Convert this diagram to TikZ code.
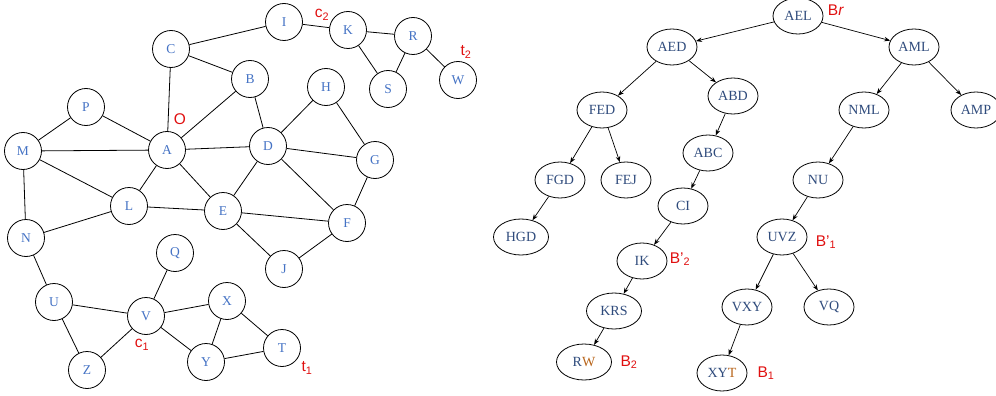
\documentclass[tikz,border=0pt]{standalone}
\usepackage{fontspec}
\setmainfont{Liberation Serif}
\newfontfamily\labfont{Liberation Sans}
\usetikzlibrary{arrows.meta,shapes.geometric}
\definecolor{gblue}{HTML}{4472C4}
\definecolor{tblue}{HTML}{2F4B7C}
\definecolor{tora}{HTML}{B8651B}
\definecolor{lred}{HTML}{E01010}
\tikzset{
  gnode/.style={circle,draw,line width=0.8pt,minimum size=37pt,inner sep=0pt,text=gblue,font=\fontsize{13.5}{14}\selectfont},
  tnode/.style={ellipse,draw,line width=0.8pt,minimum width=50pt,minimum height=36pt,inner sep=0pt,text=tblue,font=\fontsize{14}{15}\selectfont},
  wide/.style={minimum width=55pt},
  gedge/.style={line width=0.8pt},
  tedge/.style={line width=0.7pt,-{Stealth[length=6pt,width=4.5pt]}},
  lab/.style={text=lred,font=\labfont\fontsize{15.5}{16}\selectfont,inner sep=0pt}
}
\begin{document}
\begin{tikzpicture}[x=1pt,y=-1pt]
\useasboundingbox (0,0) rectangle (996,396);
% graph nodes
\node[gnode] (I) at (284,22) {I};
\node[gnode] (K) at (348,30) {K};
\node[gnode] (R) at (413,36) {R};
\node[gnode] (S) at (388,89) {S};
\node[gnode] (W) at (458,80) {W};
\node[gnode] (C) at (171,49) {C};
\node[gnode] (B) at (250,79) {B};
\node[gnode] (H) at (326,87) {H};
\node[gnode] (P) at (86,107) {P};
\node[gnode] (M) at (23,151) {M};
\node[gnode] (A) at (167,150) {A};
\node[gnode] (D) at (268,146) {D};
\node[gnode] (G) at (375,160) {G};
\node[gnode] (L) at (129,206) {L};
\node[gnode] (E) at (223,211) {E};
\node[gnode] (F) at (347,223) {F};
\node[gnode] (N) at (26,238) {N};
\node[gnode] (Q) at (175,253) {Q};
\node[gnode] (J) at (284,269) {J};
\node[gnode] (U) at (54,302) {U};
\node[gnode] (V) at (146,316) {V};
\node[gnode] (X) at (227,301) {X};
\node[gnode] (T) at (282,348) {T};
\node[gnode] (Y) at (206,362) {Y};
\node[gnode] (Z) at (87,370) {Z};
% graph edges
\foreach \a/\b in {C/I,I/K,K/R,K/S,R/S,R/W,C/B,C/A,B/A,B/D,H/D,H/G,P/M,P/A,M/A,A/D,D/G,M/L,M/N,A/L,A/E,D/E,D/F,G/F,L/E,L/N,E/F,E/J,J/F,N/U,Q/V,U/V,U/Z,V/Z,V/X,V/Y,X/Y,X/T,Y/T}
  \draw[gedge] (\a) -- (\b);
% graph labels
\node[lab] (lO) at (180,119) {O};
\node[lab] (lc2) at (322,15) {c\textsubscript{2}};
\node[lab] (lt2) at (466,52) {t\textsubscript{2}};
\node[lab] (lc1) at (142,345) {c\textsubscript{1}};
\node[lab] (lt1) at (307,368) {t\textsubscript{1}};
% tree nodes
\node[tnode] (AEL) at (798,16) {AEL};
\node[tnode] (AED) at (672,47) {AED};
\node[tnode] (AML) at (914,47) {AML};
\node[tnode] (FED) at (602,110) {FED};
\node[tnode] (ABD) at (733,96) {ABD};
\node[tnode] (NML) at (864,110) {NML};
\node[tnode] (AMP) at (976,110) {AMP};
\node[tnode] (ABC) at (708,153) {ABC};
\node[tnode] (FGD) at (560,180) {FGD};
\node[tnode] (FEJ) at (626,180) {FEJ};
\node[tnode] (NU) at (818,180) {NU};
\node[tnode] (CI) at (683,206) {CI};
\node[tnode,wide] (HGD) at (521,237) {HGD};
\node[tnode] (UVZ) at (782,237) {UVZ};
\node[tnode] (IK) at (642,261) {IK};
\node[tnode,wide] (KRS) at (614,311) {KRS};
\node[tnode] (VXY) at (747,307) {VXY};
\node[tnode] (VQ) at (829,307) {VQ};
\node[tnode,wide] (RW) at (584,362) {R\textcolor{tora}{W}};
\node[tnode] (XYT) at (722,373) {XY\textcolor{tora}{T}};
% tree edges
\foreach \a/\b in {AEL/AED,AEL/AML,AED/FED,AED/ABD,FED/FGD,FED/FEJ,FGD/HGD,ABD/ABC,ABC/CI,CI/IK,IK/KRS,KRS/RW,AML/NML,AML/AMP,NML/NU,NU/UVZ,UVZ/VXY,UVZ/VQ,VXY/XYT}
  \draw[tedge] (\a) -- (\b);
% tree labels
\node[lab] (lBr) at (836,10) {B\textit{r}};
\node[lab] (lB1p) at (826,242) {B’\textsubscript{1}};
\node[lab] (lB2p) at (680,259) {B’\textsubscript{2}};
\node[lab] (lB2) at (629,362) {B\textsubscript{2}};
\node[lab] (lB1) at (766,373) {B\textsubscript{1}};
\end{tikzpicture}
\end{document}
